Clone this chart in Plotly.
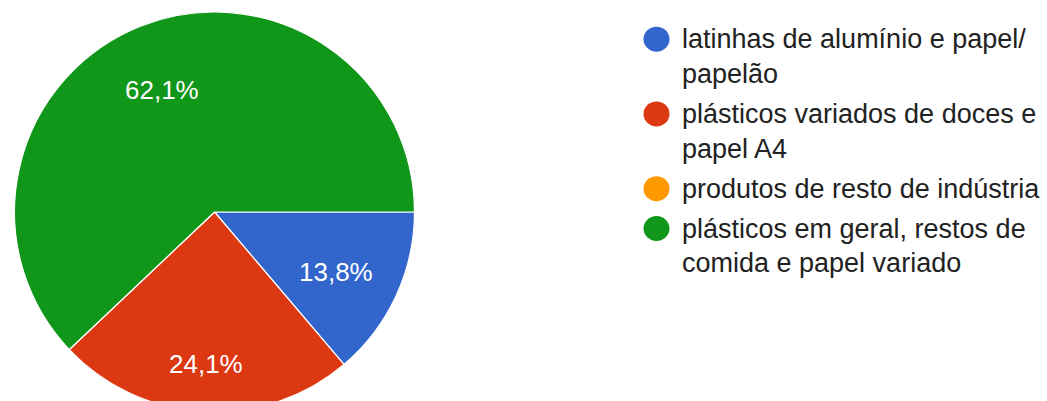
import math
import plotly.graph_objects as go

# Survey answers: what kind of waste is produced
categories = [
    "latinhas de alumínio e papel/papelão",
    "plásticos variados de doces e papel A4",
    "produtos de resto de indústria",
    "plásticos em geral, restos de comida e papel variado",
]
counts = [4, 7, 0, 18]
colors = ["#3366CC", "#DC3912", "#FF9900", "#109618"]

# Legend text, wrapped the way it is shown
legend_lines = [
    ["latinhas de alumínio e papel/", "papelão"],
    ["plásticos variados de doces e", "papel A4"],
    ["produtos de resto de indústria"],
    ["plásticos em geral, restos de", "comida e papel variado"],
]

W, H = 1047, 412
FONT = "Arial, Liberation Sans, sans-serif"

# pie geometry in pixels
cx, cy, r = 214.5, 212.0, 200.0
start_deg = 0.0                      # first slice starts at 3 o'clock, runs clockwise
label_radius = [0.67, 0.755, 0.7, 0.71]  # where each percentage sits, as a share of r

fig = go.Figure()
fig.add_trace(go.Pie(
    labels=categories,
    values=counts,
    sort=False,
    direction="clockwise",
    rotation=90 - start_deg,
    marker=dict(colors=colors, line=dict(color="white", width=1.2)),
    textinfo="none",
    hoverinfo="label+value+percent",
    showlegend=False,
    domain=dict(x=[(cx - r) / W, (cx + r) / W], y=[0, 1]),
))

annotations, shapes = [], []

# percentage labels, placed on each slice's middle angle
total = sum(counts)
acc = 0.0
for c, rf in zip(counts, label_radius):
    if c:
        mid = math.radians(start_deg + 360.0 * (acc + c / 2) / total)
        px = cx + rf * r * math.cos(mid)
        py = cy + rf * r * math.sin(mid)
        pct = f"{100 * c / total:.1f}".replace(".", ",") + "%"
        annotations.append(dict(
            text=pct, xref="paper", yref="paper",
            x=px / W, y=1 - py / H, xanchor="center", yanchor="middle",
            showarrow=False, font=dict(family=FONT, size=26, color="white"),
        ))
    acc += c

# hand-built legend with round swatches
sw_x, txt_x = 656.5, 680.0
line_step, item_gap = 36.0, 41.0
y = 28.0
for lines, col in zip(legend_lines, colors):
    shapes.append(dict(
        type="circle", xref="paper", yref="paper",
        xsizemode="pixel", ysizemode="pixel",
        xanchor=sw_x / W, yanchor=1 - y / H,
        x0=-13, x1=13, y0=-12.5, y1=12.5,
        fillcolor=col, line=dict(width=0),
    ))
    for i, line in enumerate(lines):
        annotations.append(dict(
            text=line, xref="paper", yref="paper",
            x=txt_x / W, y=1 - y / H,
            xanchor="left", yanchor="middle", showarrow=False,
            font=dict(family=FONT, size=27, color="#222222"),
        ))
        y += line_step if i < len(lines) - 1 else item_gap

fig.update_layout(
    width=W, height=H,
    margin=dict(l=0, r=0, t=int(cy - r), b=0),
    paper_bgcolor="white", plot_bgcolor="white",
    shapes=shapes, annotations=annotations,
)

fig.write_html(
    "out.html",
    post_script=(
        "document.documentElement.style.overflow='hidden';"
        "document.body.style.overflow='hidden';"
        "document.body.style.margin='0';"
    ),
)
